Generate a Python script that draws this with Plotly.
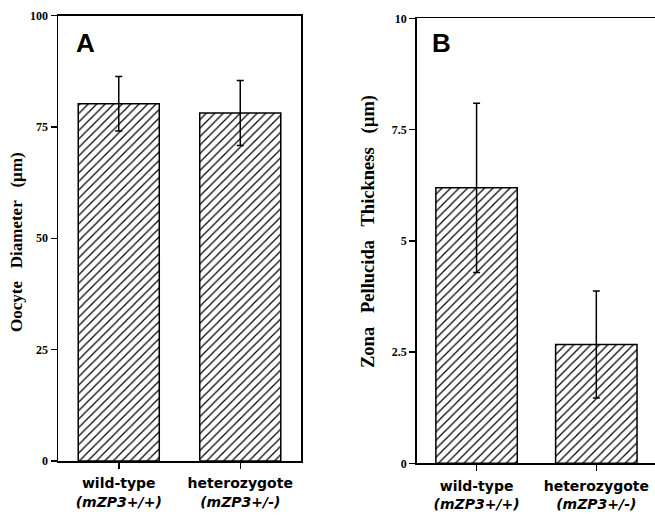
import plotly.graph_objects as go

# ---- data ----
categories = ["wild-type", "heterozygote"]
genotypes = ["(mZP3+/+)", "(mZP3+/-)"]
diameter_mean = [80.2, 78.1]
diameter_sd = [6.1, 7.3]
zp_mean = [6.19, 2.67]
zp_sd = [1.9, 1.2]
a_ticks = [0, 25, 50, 75, 100]
b_ticks = [0, 2.5, 5, 7.5, 10]
b_ticklabels = ["0", "2.5", "5", "7.5", "10"]

W, H = 655, 516
ticktext = [f"<b>{c}</b><br><b><i>{g}</i></b>" for c, g in zip(categories, genotypes)]
xpos = list(range(len(categories)))

pattern = dict(shape="/", size=6, solidity=0.2, fgcolor="black", bgcolor="white")

fig = go.Figure()
fig.add_trace(go.Bar(
    x=xpos, y=diameter_mean, width=0.667,
    marker=dict(color="white", line=dict(color="black", width=1.5), pattern=pattern),
    error_y=dict(type="data", array=diameter_sd, visible=True, color="black", thickness=1.5, width=3.5),
    xaxis="x", yaxis="y", showlegend=False, hoverinfo="skip",
))
fig.add_trace(go.Bar(
    x=xpos, y=zp_mean, width=0.68,
    marker=dict(color="white", line=dict(color="black", width=1.5), pattern=pattern),
    error_y=dict(type="data", array=zp_sd, visible=True, color="black", thickness=1.5, width=3.5),
    xaxis="x2", yaxis="y2", showlegend=False, hoverinfo="skip",
))

num_font = dict(family="Liberation Serif", size=12, color="black", weight="bold")
cat_font = dict(family="DejaVu Sans", size=14, color="black")

common_x = dict(showline=True, linecolor="black", linewidth=1.5, ticks="outside", ticklen=6,
                tickwidth=1.5, tickcolor="black", showgrid=False, zeroline=False,
                tickmode="array", tickvals=xpos, ticktext=ticktext, tickfont=cat_font,
                ticklabelstandoff=3, automargin=False, fixedrange=True)
common_y = dict(showline=True, linecolor="black", linewidth=1.5, ticks="outside", ticklen=6,
                tickwidth=1.5, tickcolor="black", showgrid=False, zeroline=False,
                tickfont=num_font, automargin=False, tickmode="array", fixedrange=True)

sp = "\u00a0\u00a0 "
fig.update_layout(
    width=W, height=H, template="none",
    paper_bgcolor="white", plot_bgcolor="white",
    margin=dict(l=0, r=0, t=0, b=0),
    bargap=0,
    xaxis=dict(domain=[58 / W, 301 / W], range=[-0.5, 1.5], mirror=True, anchor="y", **common_x),
    yaxis=dict(domain=[(H - 461) / H, (H - 15.5) / H], range=[0, 100], mirror=True, anchor="x",
               tickvals=a_ticks, ticktext=[str(t) for t in a_ticks], **common_y),
    xaxis2=dict(domain=[416.7 / W, 1.0], range=[-0.5, 1.49], mirror=True, anchor="y2", **common_x),
    yaxis2=dict(domain=[(H - 463.3) / H, (H - 18.3) / H], range=[0, 10], mirror=False, anchor="x2",
                tickvals=b_ticks, ticktext=b_ticklabels, **common_y),
    annotations=[
        dict(text="<b>A</b>", x=85.5 / W, y=(H - 42.5) / H, xref="paper", yref="paper",
             showarrow=False, font=dict(family="Liberation Sans", size=26, color="black"),
             xanchor="center", yanchor="middle"),
        dict(text="<b>B</b>", x=441.5 / W, y=(H - 42.5) / H, xref="paper", yref="paper",
             showarrow=False, font=dict(family="Liberation Sans", size=26, color="black"),
             xanchor="center", yanchor="middle"),
        dict(text="<b>Oocyte" + sp + "Diameter" + sp + "(µm)</b>", x=17 / W, y=(H - 242) / H,
             xref="paper", yref="paper", showarrow=False, textangle=-90,
             font=dict(family="Liberation Serif", size=17, color="black"),
             xanchor="center", yanchor="middle"),
        dict(text="<b>Zona" + sp + "Pellucida" + sp + "Thickness" + sp + "(µm)</b>", x=368 / W, y=(H - 232) / H,
             xref="paper", yref="paper", showarrow=False, textangle=-90,
             font=dict(family="Liberation Serif", size=18.5, color="black"),
             xanchor="center", yanchor="middle"),
    ],
)

fig.write_html("out.html", config={"displayModeBar": False, "staticPlot": True},
               post_script="document.body.style.margin='0';document.body.style.overflow='hidden';")
